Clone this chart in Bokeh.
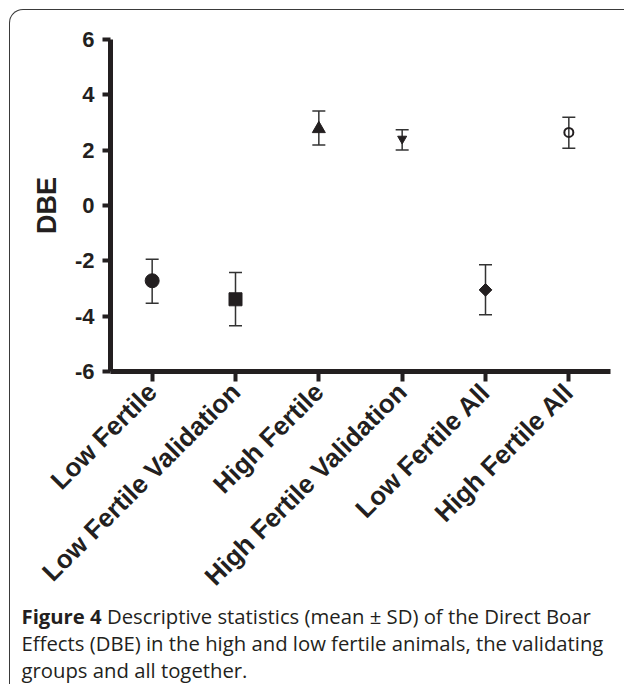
import math
from bokeh.plotting import figure
from bokeh.layouts import column
from bokeh.models import (ColumnDataSource, Whisker, TeeHead, FixedTicker, Range1d,
                          FactorRange, PrintfTickFormatter, Div)
from bokeh.embed import file_html
from bokeh.resources import INLINE

categories = ["Low Fertile", "Low Fertile Validation", "High Fertile",
              "High Fertile Validation", "Low Fertile All", "High Fertile All"]
means = [-2.72, -3.39, 2.77, 2.41, -3.05, 2.64]
upper = [-1.94, -2.42, 3.42, 2.74, -2.14, 3.19]
lower = [-3.53, -4.35, 2.19, 2.01, -3.95, 2.07]
y_ticks = [-6, -4, -2, 0, 2, 4, 6]

caption_bold = "Figure 4"
caption_lines = ["Descriptive statistics (mean \u00b1 SD) of the Direct Boar",
                 "Effects (DBE) in the high and low fertile animals, the validating",
                 "groups and all together."]

INK = "#231f20"
BORDER = "1.5px solid #3a3a3a"

p = figure(x_range=FactorRange(*categories, range_padding=0), y_range=Range1d(-6, 6),
           width=615, height=594, output_backend="svg", toolbar_location=None,
           min_border_left=100, min_border_right=15, min_border_top=29, min_border_bottom=225)
p.margin = (9, 0, 0, 9)
p.styles = {"border-top": BORDER, "border-left": BORDER, "border-top-left-radius": "14px"}
p.border_fill_color = None
p.outline_line_color = None
p.grid.visible = False

src = ColumnDataSource(dict(cat=categories, mean=means, upper=upper, lower=lower))
w = Whisker(base="cat", upper="upper", lower="lower", source=src,
            line_color="#333333", line_width=1.5,
            upper_head=TeeHead(size=13, line_color="#333333", line_width=1.5),
            lower_head=TeeHead(size=13, line_color="#333333", line_width=1.5))
p.add_layout(w)

p.scatter(x=[categories[0]], y=[means[0]], marker="circle", size=14, color=INK)
p.scatter(x=[categories[1]], y=[means[1]], marker="square", size=13, color=INK)
p.scatter(x=[categories[2]], y=[means[2]], marker="triangle", size=13, color=INK)
p.scatter(x=[categories[3]], y=[means[3]], marker="inverted_triangle", size=9, color=INK)
p.scatter(x=[categories[4]], y=[means[4]], marker="square", angle=math.pi/4, size=9, color=INK)
p.scatter(x=[categories[5]], y=[means[5]], marker="circle", size=9, fill_color=None,
          line_color=INK, line_width=2)

for ax in (p.xaxis[0], p.yaxis[0]):
    ax.axis_line_width = 5
    ax.axis_line_color = INK
    ax.major_tick_line_width = 4
    ax.major_tick_line_color = INK
    ax.major_tick_in = 0
    ax.minor_tick_line_color = None
    ax.major_label_text_font = "Liberation Sans"
    ax.major_label_text_font_style = "bold"
    ax.major_label_text_color = INK

p.yaxis.ticker = FixedTicker(ticks=y_ticks)
p.yaxis.formatter = PrintfTickFormatter(format="%d")
p.yaxis.major_tick_out = 8
p.yaxis.major_label_standoff = 8
p.yaxis.major_label_text_font_size = "22px"
p.yaxis.axis_label = "DBE"
p.yaxis.axis_label_text_font = "Liberation Sans"
p.yaxis.axis_label_text_font_style = "bold"
p.yaxis.axis_label_text_font_size = "27px"
p.yaxis.axis_label_text_color = INK
p.yaxis.axis_label_standoff = 10

p.xaxis.major_tick_out = 10
p.xaxis.major_label_standoff = 6
p.xaxis.major_label_orientation = math.pi / 4
p.xaxis.major_label_text_font_size = "26px"

caption_html = ("<b>" + caption_bold + "</b> " + caption_lines[0] + "<br>" +
                caption_lines[1] + "<br>" + caption_lines[2])
cap = Div(text=caption_html, width=614, height=90, margin=(0, 0, 0, 9),
          styles={"border-left": BORDER, "padding-left": "11.5px", "padding-top": "0px",
                  "font-family": "'Open Sans'", "font-size": "20.3px", "line-height": "27px",
                  "color": INK, "white-space": "nowrap", "box-sizing": "border-box"})

layout = column(p, cap, spacing=0)

open("out.html", "w").write(file_html(layout, INLINE))
